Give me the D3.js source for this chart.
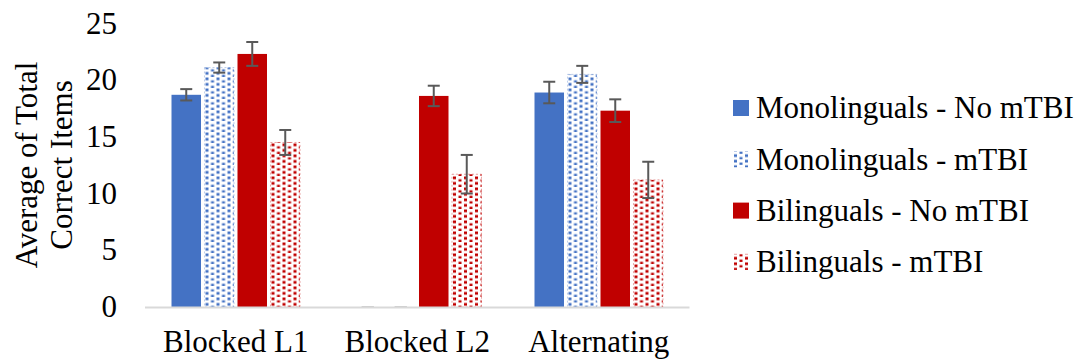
<!DOCTYPE html>
<html>
<head>
<meta charset="utf-8">
<script src="https://cdn.jsdelivr.net/npm/d3@7"></script>
<style>
  body { margin: 0; background: #fff; }
</style>
</head>
<body>
<div id="chart"></div>
<script>
// data
const categories = ["Blocked L1", "Blocked L2", "Alternating"]
const seriesNames = ["Monolinguals - No mTBI", "Monolinguals - mTBI", "Bilinguals - No mTBI", "Bilinguals - mTBI"]
const monoNoTbi = [18.7, 0, 18.9]
const monoNoTbiErr = [0.5, 0, 0.95]
const monoTbi = [21.1, 0, 20.5]
const monoTbiErr = [0.45, 0, 0.75]
const biNoTbi = [22.3, 18.6, 17.3]
const biNoTbiErr = [1.05, 0.9, 1.0]
const biTbi = [14.5, 11.7, 11.2]
const biTbiErr = [1.1, 1.7, 1.6]
const yTicks = [0, 5, 10, 15, 20, 25]

const values = [monoNoTbi, monoTbi, biNoTbi, biTbi]
const errors = [monoNoTbiErr, monoTbiErr, biNoTbiErr, biTbiErr]
const colors = ["#4472C4", "#4472C4", "#C00000", "#C00000"]
const dotted = [false, true, false, true]

const width = 1087
const height = 364
const fontSize = 31
const serif = "'Liberation Serif', 'Times New Roman', Times, serif"

var svg = d3.select("#chart")
  .append("svg")
  .attr("width", width)
  .attr("height", height)
  .attr("font-family", serif)

// dotted fill patterns
var defs = svg.append("defs")
colors.forEach((c, i) => {
  if (!dotted[i]) return
  var p = defs.append("pattern")
    .attr("id", "dots" + i)
    .attr("patternUnits", "userSpaceOnUse")
    .attr("width", 11)
    .attr("height", 5.5)
  p.append("rect").attr("width", 11).attr("height", 5.5).attr("fill", "#fff")
  p.append("rect").attr("x", 1).attr("y", 0.5).attr("width", 3).attr("height", 2.7).attr("fill", c)
  p.append("rect").attr("x", 6.5).attr("y", 3.25).attr("width", 3).attr("height", 2.7).attr("fill", c)
})

const fillOf = i => dotted[i] ? "url(#dots" + i + ")" : colors[i]

// scales
var x0 = d3.scaleBand()
  .domain(categories)
  .range([145, 689.5])

var x1 = d3.scaleBand()
  .domain(d3.range(seriesNames.length))
  .range([0, 128.5])
  .paddingInner(0.106)

const groupOffset = (x0.bandwidth() - 128.5) / 2

var y = d3.scaleLinear()
  .domain([0, 25])
  .range([307, 23.3])

// y tick labels (no axis line in the reference)
svg.append("g")
  .selectAll("text")
  .data(yTicks)
  .enter().append("text")
  .attr("x", 117)
  .attr("y", d => y(d))
  .attr("dy", "0.33em")
  .attr("text-anchor", "end")
  .style("font-family", serif)
  .style("font-size", fontSize + "px")
  .text(d => d)

// bars
var groups = svg.append("g")
  .selectAll(".group")
  .data(categories)
  .enter().append("g")
  .attr("class", "group")
  .attr("transform", d => "translate(" + (x0(d) + groupOffset) + ",0)")

groups.each(function (cat, ci) {
  var g = d3.select(this)
  seriesNames.forEach((s, si) => {
    const v = values[si][ci]
    if (v > 0) {
      g.append("rect")
        .attr("x", x1(si))
        .attr("y", y(v))
        .attr("width", x1.bandwidth())
        .attr("height", y(0) - y(v))
        .attr("fill", fillOf(si))
        .attr("stroke", dotted[si] ? colors[si] : "none")
        .attr("stroke-opacity", 0.35)
        .attr("stroke-dasharray", "2,2")
    }
  })
})

// x axis baseline
svg.append("line")
  .attr("x1", x0.range()[0])
  .attr("x2", x0.range()[1])
  .attr("y1", y(0) + 0.5)
  .attr("y2", y(0) + 0.5)
  .attr("stroke", "#d9d9d9")
  .attr("stroke-width", 2)

// error bars
groups.each(function (cat, ci) {
  var g = d3.select(this)
  seriesNames.forEach((s, si) => {
    const v = values[si][ci]
    const e = errors[si][ci]
    const cx = x1(si) + x1.bandwidth() / 2
    const col = e > 0 ? "#595959" : "#c8c8c8"
    g.append("line")
      .attr("x1", cx).attr("x2", cx)
      .attr("y1", y(v + e)).attr("y2", y(v - e))
      .attr("stroke", col).attr("stroke-width", 2)
    ;[v + e, v - e].forEach(t => {
      g.append("line")
        .attr("x1", cx - 6).attr("x2", cx + 6)
        .attr("y1", y(t)).attr("y2", y(t))
        .attr("stroke", col).attr("stroke-width", 2)
    })
  })
})

// category labels
svg.append("g")
  .selectAll("text")
  .data(categories)
  .enter().append("text")
  .attr("x", d => x0(d) + x0.bandwidth() / 2)
  .attr("y", 352)
  .attr("text-anchor", "middle")
  .style("font-family", serif)
  .style("font-size", fontSize + "px")
  .text(d => d)

// y axis title
var yTitle = svg.append("text")
  .attr("transform", "translate(27,165) rotate(-90)")
  .attr("text-anchor", "middle")
  .style("font-family", serif)
  .style("font-size", fontSize + "px")
yTitle.append("tspan").attr("x", 0).attr("dy", "0.33em").text("Average of Total")
yTitle.append("tspan").attr("x", 0).attr("dy", "1.12em").text("Correct Items")

// legend
var legend = svg.append("g")
  .selectAll(".legend")
  .data(seriesNames)
  .enter().append("g")
  .attr("class", "legend")
  .attr("transform", (d, i) => "translate(733," + (108 + i * 51.3) + ")")

legend.append("rect")
  .attr("x", 0)
  .attr("y", -8)
  .attr("width", 16)
  .attr("height", 16)
  .attr("fill", (d, i) => fillOf(i))

legend.append("text")
  .attr("x", 23)
  .attr("y", 0)
  .attr("dy", "0.33em")
  .style("font-family", serif)
  .style("font-size", fontSize + "px")
  .text(d => d)
</script>
</body>
</html>
